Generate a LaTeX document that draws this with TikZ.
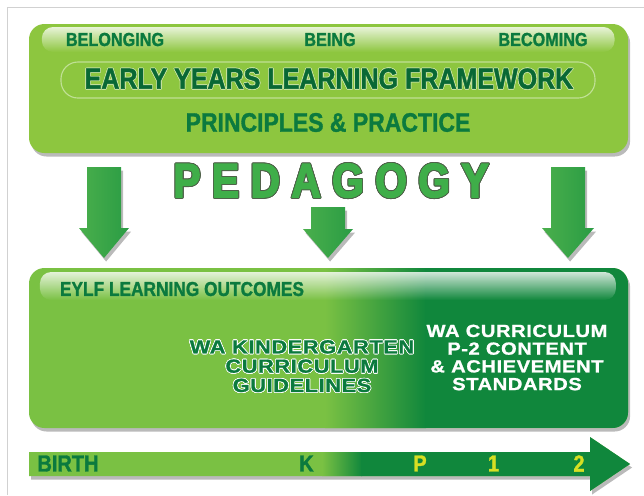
\documentclass[tikz,border=0pt]{standalone}
\usepackage{fontspec}
\setmainfont{Liberation Sans}
\newfontfamily\narrowfont{Liberation Sans}[FakeStretch=0.86,FakeBold=1.3]
\newfontfamily\widefont{Liberation Sans}[FakeStretch=1.15,LetterSpace=3,FakeBold=1]
\newfontfamily\pedfont{Liberation Sans}[FakeStretch=0.85,LetterSpace=24,FakeBold=3]
\usepackage[copies]{contour}
\contourlength{0.5pt}
\usetikzlibrary{calc,shadows,fadings,positioning}
\definecolor{topgreen}{HTML}{8DC63F}
\definecolor{lightgreen}{HTML}{7AC143}
\definecolor{darkgreen}{HTML}{10873C}
\definecolor{textgreen}{HTML}{0B7A3E}
\definecolor{pedgreen}{HTML}{3FAE49}
\definecolor{pedshade}{HTML}{4E6048}
\definecolor{arrowlight}{HTML}{7ACB58}
\definecolor{arrowdark}{HTML}{2A9C44}
\definecolor{markyellow}{HTML}{D7DF23}
\definecolor{framegrey}{gray}{0.82}

\begin{document}
\begin{tikzpicture}[x=0.025cm,y=-0.025cm]

\tikzset{boxshadow/.style={drop shadow={shadow xshift=1.5pt,shadow yshift=-2.5pt,opacity=.45,fill=black!60}},
greenbox/.style={rounded corners=11pt,boxshadow},
gloss/.style={fill=white,path fading=south,fill opacity=.8,rounded corners=8pt},
arrowbox/.style={left color=arrowdark!60!arrowlight,middle color=arrowlight,right color=arrowdark,boxshadow},
toplabel/.style={font=\narrowfont\bfseries\fontsize{13.4}{14}\selectfont,text=textgreen,inner sep=0pt},
titletext/.style={font=\narrowfont\bfseries\fontsize{20.7}{22}\selectfont,text=textgreen!85!black,inner sep=0pt},
subtext/.style={font=\narrowfont\bfseries\fontsize{19}{20}\selectfont,text=textgreen,inner sep=0pt},
pedtext/.style={font=\pedfont\bfseries\fontsize{34}{34}\selectfont,text=pedgreen,inner sep=0pt},
outcometext/.style={font=\narrowfont\bfseries\fontsize{14.3}{15}\selectfont,text=textgreen,inner sep=0pt},
kindtext/.style={font=\widefont\bfseries\fontsize{13.5}{13.7}\selectfont,text=textgreen,inner sep=0pt,align=center},
curtext/.style={font=\widefont\bfseries\fontsize{12.5}{12.6}\selectfont,text=white,inner sep=0pt,align=center},
barlabel/.style={font=\narrowfont\bfseries\fontsize{16.5}{17}\selectfont,text=textgreen,inner sep=0pt},
yearlabel/.style={barlabel,text=markyellow}}

\useasboundingbox (0,0) rectangle (644,495);

% Frame
\draw[framegrey,line width=.6pt] (7,495) -- (7,7) -- (644,7);

% Top box
\fill[topgreen,greenbox] (29,24) rectangle (628,153);
\fill[gloss] (42,27) rectangle (615,52);
\draw[white!45!topgreen,line width=.8pt,rounded corners=12pt] (61,62) rectangle (595,98);

\node[toplabel] (belonging) at (115,39.5) {BELONGING};
\node[toplabel] (being) at (330,39.5) {BEING};
\node[toplabel] (becoming) at (543,39.5) {BECOMING};
\node[titletext] (eylf) at (329,79) {\contour{white!50!topgreen}{EARLY YEARS LEARNING FRAMEWORK}};
\node[subtext] (principles) at (328,122.5) {PRINCIPLES \& PRACTICE};

% Pedagogy
\node[pedtext] (pedagogy) at (331,181) {\contourlength{0.6pt}\contour{pedshade}{PEDAGOGY}};

% Arrows down
\shade[arrowbox] (87,167) -- (121,167) -- (121,228) -- (129,228) -- (104,258) -- (79,228) -- (87,228) -- cycle;
\shade[arrowbox] (311,207) -- (345,207) -- (345,229) -- (353,229) -- (328,258) -- (303,229) -- (311,229) -- cycle;
\shade[arrowbox] (551,167) -- (585,167) -- (585,228) -- (594,228) -- (568,258) -- (542,228) -- (551,228) -- cycle;

% Bottom box
\fill[lightgreen,greenbox] (29,268) rectangle (628,428);
\begin{scope}
\clip[rounded corners=11pt] (29,268) rectangle (628,428);
\shade[left color=lightgreen,right color=darkgreen] (325,268) rectangle (426,428);
\fill[darkgreen] (425,268) rectangle (630,428);
\end{scope}
\fill[gloss] (40,272) rectangle (616,300);

\node[outcometext] (outcomes) at (182,289) {EYLF LEARNING OUTCOMES};
\node[kindtext] (kinder) at (302,366.5) {\contour{white}{WA KINDERGARTEN}\\\contour{white}{CURRICULUM}\\\contour{white}{GUIDELINES}};
\node[curtext] (curric) at (517,357.5) {WA CURRICULUM\\P-2 CONTENT\\\& ACHIEVEMENT\\STANDARDS};

% Time arrow
\fill[lightgreen,boxshadow] (29,452) -- (590,452) -- (590,437) -- (630,464) -- (590,491) -- (590,476) -- (29,476) -- cycle;
\begin{scope}
\clip (29,452) -- (590,452) -- (590,437) -- (630,464) -- (590,491) -- (590,476) -- (29,476) -- cycle;
\shade[left color=lightgreen,right color=darkgreen] (322,430) rectangle (362,495);
\fill[darkgreen] (361,430) rectangle (640,495);
\end{scope}

\node[barlabel] (birth) at (68,463.5) {BIRTH};
\node[barlabel] (kmark) at (306.5,463.5) {K};
\node[yearlabel] (pmark) at (420,463.5) {P};
\node[yearlabel] (onemark) at (493.5,463.5) {1};
\node[yearlabel] (twomark) at (579,463.5) {2};

\end{tikzpicture}
\end{document}
